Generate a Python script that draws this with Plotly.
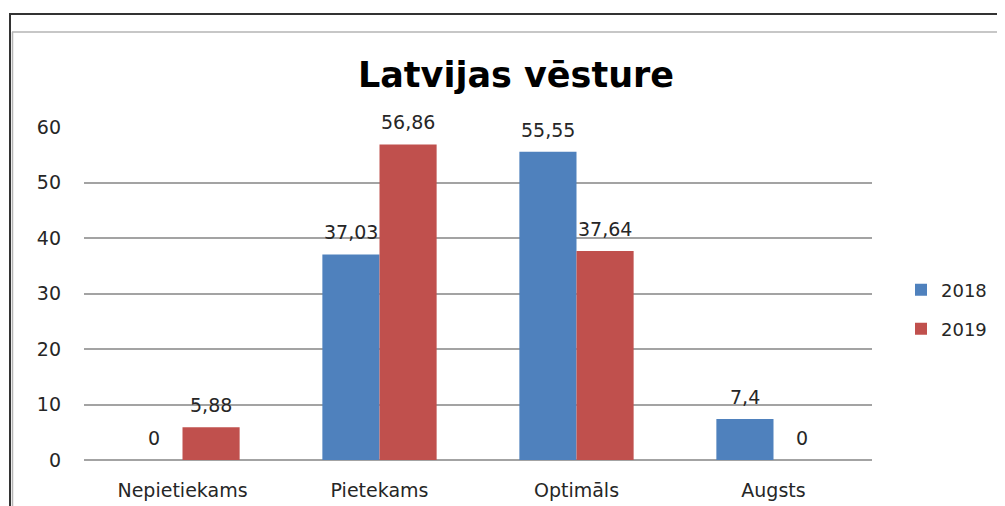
import plotly.graph_objects as go

categories = ["Nepietiekams", "Pietekams", "Optimāls", "Augsts"]
series_names = ["2018", "2019"]
values_2018 = [0, 37.03, 55.55, 7.4]
values_2019 = [5.88, 56.86, 37.64, 0]
y_ticks = [0, 10, 20, 30, 40, 50, 60]
title_text = "Latvijas vēsture"

BLUE = "#4F81BD"
RED = "#C0504D"
FONT = "DejaVu Sans"
TXT = "#262626"

OFF = 8  # page body margin
W, H = 1005 - OFF, 506 - OFF
L, R, T, B = 84 - OFF, 872 - OFF, 127 - OFF, 460 - OFF  # plot area in figure px


def px_x(px):
    return (px - OFF - L) / (R - L)


def px_y(py):
    return (B - (py - OFF)) / (B - T)


def fmt(v):
    return f"{v:g}".replace(".", ",")


fig = go.Figure()
fig.add_trace(go.Bar(x=categories, y=values_2018, name=series_names[0],
                     marker=dict(color=BLUE, line=dict(width=0)), legend="legend"))
fig.add_trace(go.Bar(x=categories, y=values_2019, name=series_names[1],
                     marker=dict(color=RED, line=dict(width=0)), legend="legend2"))

bar_half = 28.5
for vals, sh in ((values_2018, -bar_half), (values_2019, bar_half)):
    for c, v in zip(categories, vals):
        fig.add_annotation(x=c, y=v, xref="x", yref="y", text=fmt(v), showarrow=False,
                           xshift=sh, yshift=22, yanchor="middle",
                           font=dict(family=FONT, size=19, color=TXT))

shapes = [
    # outer dark frame
    dict(type="line", xref="paper", yref="paper", x0=px_x(10), x1=px_x(1010),
         y0=px_y(14), y1=px_y(14), line=dict(color="#333333", width=2)),
    dict(type="line", xref="paper", yref="paper", x0=px_x(10), x1=px_x(10),
         y0=px_y(13), y1=px_y(510), line=dict(color="#333333", width=2)),
    # inner light frame
    dict(type="line", xref="paper", yref="paper", x0=px_x(12), x1=px_x(1010),
         y0=px_y(32), y1=px_y(32), line=dict(color="#b5b5b5", width=1.5)),
    dict(type="line", xref="paper", yref="paper", x0=px_x(12.5), x1=px_x(12.5),
         y0=px_y(32), y1=px_y(510), line=dict(color="#b5b5b5", width=1.5)),
]

fig.update_layout(
    width=W, height=H,
    margin=dict(l=L, r=W - R, t=T, b=H - B, pad=0, autoexpand=False),
    paper_bgcolor="white", plot_bgcolor="white",
    barmode="group", bargap=0.42, bargroupgap=0,
    showlegend=True,
    title=dict(text=f"<b>{title_text}</b>", x=px_x(516), xref="paper", xanchor="center",
               y=1 - (75 - OFF) / H, yref="container", yanchor="middle",
               font=dict(family=FONT, size=35, color="#000000")),
    font=dict(family=FONT, size=18, color=TXT),
    xaxis=dict(showgrid=False, showline=False, ticks="", ticklabelstandoff=17,
               automargin=False,
               tickfont=dict(family=FONT, size=19, color=TXT)),
    yaxis=dict(range=[0, 60], tickvals=y_ticks, showgrid=True, gridcolor="#a3a3a3",
               gridwidth=1.5, zeroline=True, zerolinecolor="#a3a3a3", zerolinewidth=1.5,
               showline=False, ticks="", ticklabelstandoff=22, automargin=False,
               tickfont=dict(family=FONT, size=19, color=TXT)),
    legend=dict(x=px_x(901), y=px_y(290), xanchor="left", yanchor="middle",
                font=dict(family=FONT, size=18, color=TXT), bgcolor="rgba(0,0,0,0)"),
    legend2=dict(x=px_x(901), y=px_y(329), xanchor="left", yanchor="middle",
                 font=dict(family=FONT, size=18, color=TXT), bgcolor="rgba(0,0,0,0)"),
    shapes=shapes,
)

fig.write_html("out.html")
